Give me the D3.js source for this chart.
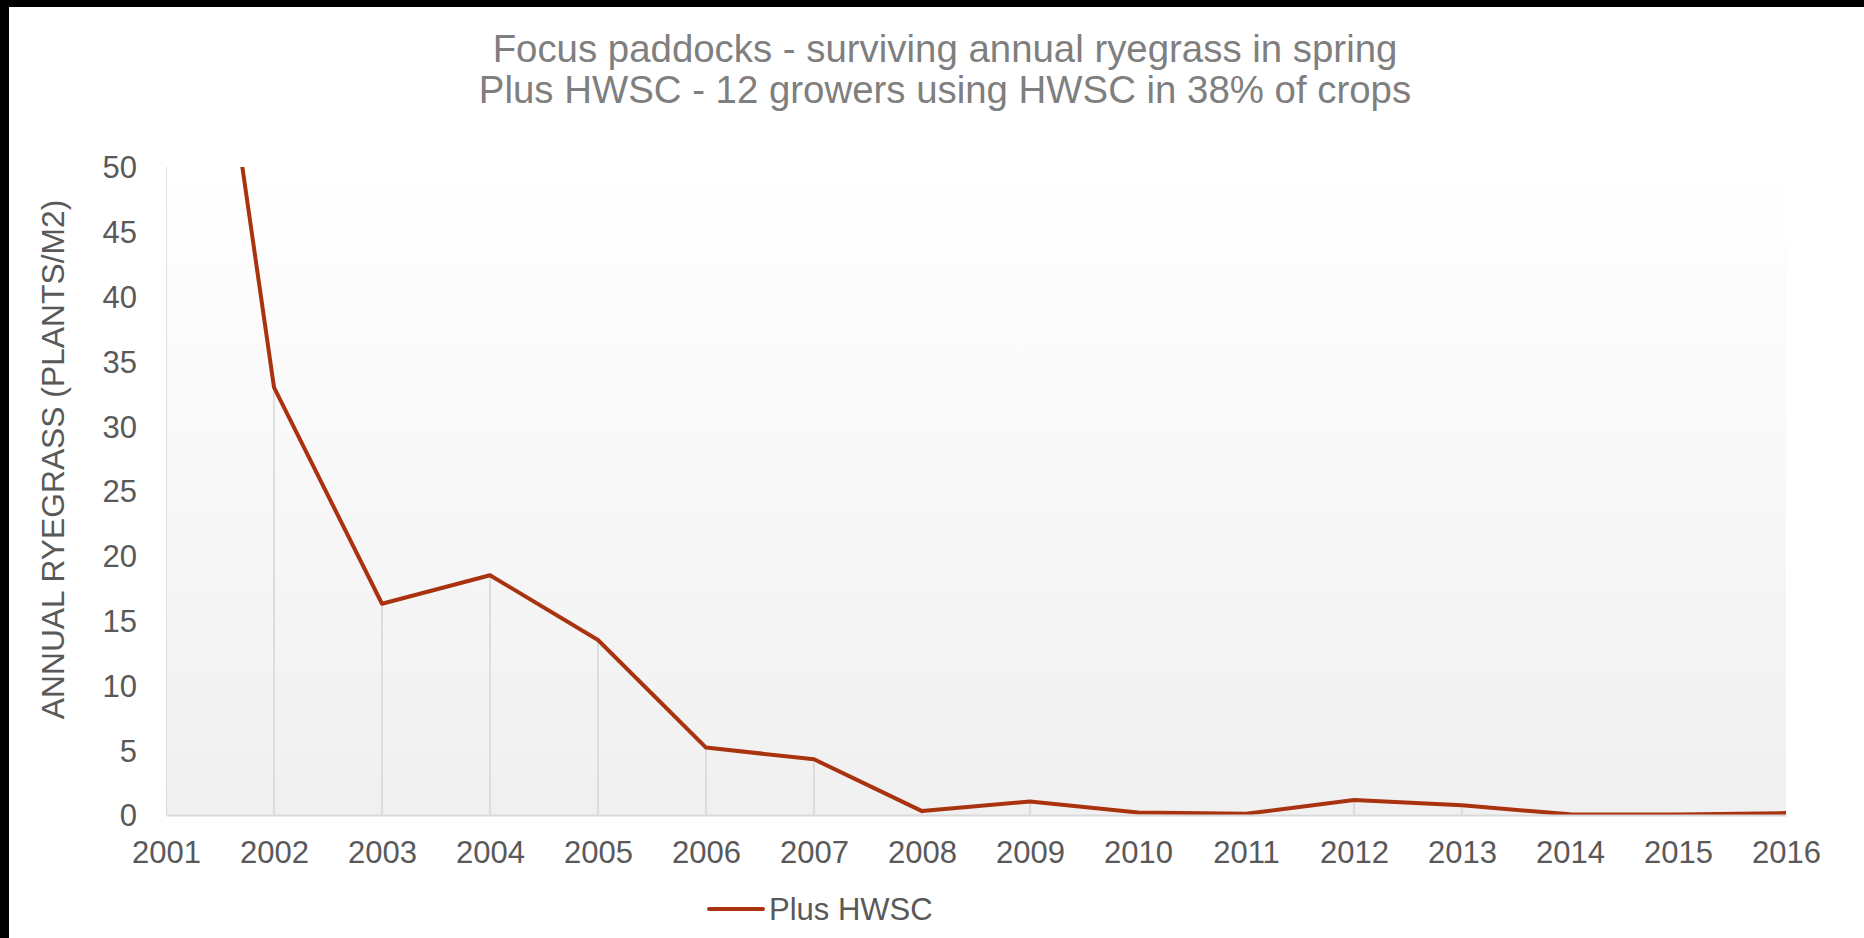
<!DOCTYPE html>
<html>
<head>
<meta charset="utf-8">
<script src="https://cdnjs.cloudflare.com/ajax/libs/d3/7.8.5/d3.min.js"></script>
<style>
  html, body { margin: 0; padding: 0; background: #ffffff; }
  svg { display: block; }
</style>
</head>
<body>
<svg id="chart" width="1864" height="938"></svg>
<script>
// Surviving annual ryegrass in spring, focus paddocks using HWSC
const years = [2001, 2002, 2003, 2004, 2005, 2006, 2007, 2008, 2009, 2010, 2011, 2012, 2013, 2014, 2015, 2016];
const plusHWSC = [91, 33, 16.3, 18.5, 13.5, 5.2, 4.3, 0.3, 1.05, 0.2, 0.1, 1.15, 0.75, 0.05, 0.03, 0.15];
const yTicks = [0, 5, 10, 15, 20, 25, 30, 35, 40, 45, 50];
const titleLines = [
  "Focus paddocks - surviving annual ryegrass in spring",
  "Plus HWSC - 12 growers using HWSC in 38% of crops"
];
const yAxisTitle = "ANNUAL RYEGRASS (PLANTS/M2)";
const seriesName = "Plus HWSC";

const W = 1864, H = 938;
const plot = { left: 166, right: 1786, top: 167, bottom: 815 };
const font = "'Liberation Sans', Arial, sans-serif";
const lineColor = "#a9320f";
const textColor = "#595959";

const svg = d3.select("#chart");

// window frame edges
svg.append("rect").attr("x", 0).attr("y", 0).attr("width", W).attr("height", 7).attr("fill", "#000");
svg.append("rect").attr("x", 0).attr("y", 0).attr("width", 9).attr("height", H).attr("fill", "#000");

const defs = svg.append("defs");
const grad = defs.append("linearGradient")
  .attr("id", "plotFill").attr("x1", 0).attr("y1", 0).attr("x2", 0).attr("y2", 1);
grad.append("stop").attr("offset", "0%").attr("stop-color", "#ffffff");
grad.append("stop").attr("offset", "100%").attr("stop-color", "#f0f0f0");

defs.append("clipPath").attr("id", "plotClip")
  .append("rect")
  .attr("x", plot.left).attr("y", plot.top)
  .attr("width", plot.right - plot.left).attr("height", plot.bottom - plot.top);

const x = d3.scaleLinear().domain([years[0], years[years.length - 1]]).range([plot.left, plot.right]);
const y = d3.scaleLinear().domain([0, 50]).range([plot.bottom, plot.top]);

// plot area background
svg.append("rect")
  .attr("x", plot.left).attr("y", plot.top)
  .attr("width", plot.right - plot.left).attr("height", plot.bottom - plot.top)
  .attr("fill", "url(#plotFill)");

// title
const title = svg.append("text")
  .attr("text-anchor", "middle")
  .attr("font-family", font).attr("font-size", 38.4).attr("fill", "#7f7f7f");
titleLines.forEach((t, i) => {
  title.append("tspan").attr("x", 945).attr("y", 62 + i * 41).text(t);
});

// y-axis title
svg.append("text")
  .attr("transform", `translate(64,${(200 + 719) / 2}) rotate(-90)`)
  .attr("text-anchor", "middle")
  .attr("font-family", font).attr("font-size", 31.8).attr("fill", textColor)
  .text(yAxisTitle);

const data = years.map((yr, i) => ({ yr, v: plusHWSC[i] }));

// drop lines from each point to the axis
const g = svg.append("g").attr("clip-path", "url(#plotClip)");
g.selectAll("line.drop").data(data).enter().append("line")
  .attr("class", "drop")
  .attr("x1", d => x(d.yr)).attr("x2", d => x(d.yr))
  .attr("y1", d => y(d.v)).attr("y2", y(0))
  .attr("stroke", "#d6d6d6").attr("stroke-width", 1.5);

// horizontal axis
const xAxis = d3.axisBottom(x).tickValues(years).tickFormat(d3.format("d")).tickSize(0).tickPadding(0);
const xg = svg.append("g").attr("transform", `translate(0,${plot.bottom})`).call(xAxis);
xg.select(".domain").attr("stroke", "#d9d9d9").attr("stroke-width", 2);
xg.selectAll("text")
  .attr("font-family", font).attr("font-size", 31).attr("fill", textColor)
  .attr("dy", null).attr("y", 48);

// vertical axis labels
const yAxis = d3.axisLeft(y).tickValues(yTicks).tickSize(0).tickPadding(0);
const yg = svg.append("g").attr("transform", `translate(137,0)`).call(yAxis);
yg.select(".domain").remove();
yg.selectAll("text")
  .attr("font-family", font).attr("font-size", 31).attr("fill", textColor)
  .attr("x", 0).attr("dy", "0.35em");

// series line
const line = d3.line().x(d => x(d.yr)).y(d => y(d.v));
g.append("path")
  .datum(data)
  .attr("d", line)
  .attr("fill", "none")
  .attr("stroke", lineColor)
  .attr("stroke-width", 4)
  .attr("stroke-linejoin", "round")
  .attr("stroke-linecap", "round");

// legend
const lg = svg.append("g").attr("transform", "translate(709,909)");
lg.append("line").attr("x1", 0).attr("x2", 54).attr("y1", 0).attr("y2", 0)
  .attr("stroke", lineColor).attr("stroke-width", 4).attr("stroke-linecap", "round");
lg.append("text").attr("x", 60).attr("y", 11)
  .attr("font-family", font).attr("font-size", 31).attr("fill", textColor)
  .text(seriesName);
</script>
</body>
</html>
